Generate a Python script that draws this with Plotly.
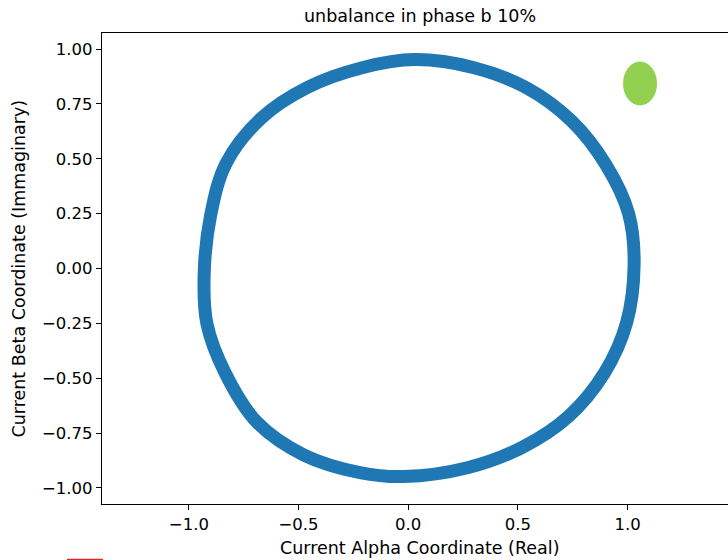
import plotly.graph_objects as go

# Trajectory of the current vector (closed loop)
alpha = [1.030, 1.005, 0.900, 0.745, 0.540, 0.300, 0.030, -0.210, -0.460, -0.670,
         -0.830, -0.900, -0.930, -0.918, -0.835, -0.690, -0.475, -0.220, -0.020,
         0.270, 0.520, 0.730, 0.895, 0.996, 1.030]
beta = [0.020, 0.250, 0.475, 0.672, 0.823, 0.915, 0.952, 0.915, 0.825, 0.685,
        0.480, 0.246, -0.020, -0.250, -0.475, -0.700, -0.850, -0.930, -0.948,
        -0.908, -0.815, -0.675, -0.475, -0.246, 0.020]

# Reference marker (green ellipse): centre and full width/height in data units
marker_center = [1.057, 0.843]
marker_size = [0.155, 0.200]

x_ticks = [-1.0, -0.5, 0.0, 0.5, 1.0]
y_ticks = [-1.00, -0.75, -0.50, -0.25, 0.00, 0.25, 0.50, 0.75, 1.00]

title_text = "unbalance in phase b 10%"
x_title = "Current Alpha Coordinate (Real)"
y_title = "Current Beta Coordinate (Immaginary)"

FONT = "DejaVu Sans"

fig = go.Figure()
fig.add_trace(go.Scatter(
    x=alpha, y=beta, mode="lines",
    line=dict(color="#1f77b4", width=13, shape="spline", smoothing=1.0),
    showlegend=False, hoverinfo="skip",
))

fig.add_shape(
    type="circle", xref="x", yref="y",
    x0=marker_center[0] - marker_size[0] / 2, x1=marker_center[0] + marker_size[0] / 2,
    y0=marker_center[1] - marker_size[1] / 2, y1=marker_center[1] + marker_size[1] / 2,
    fillcolor="#92d050", line=dict(width=0),
)

# partially visible legend line at the bottom-left edge
fig.add_shape(type="line", xref="paper", yref="paper",
              x0=-0.0559, x1=0.0016, y0=-0.1178, y1=-0.1178,
              line=dict(color="#d62728", width=1.5))

fig.update_layout(
    width=728, height=560,
    margin=dict(l=102, r=0, t=33, b=56, autoexpand=False),
    paper_bgcolor="white", plot_bgcolor="white",
    font=dict(family=FONT, size=16, color="black"),
    showlegend=False,
    xaxis=dict(
        range=[-1.396, 1.458], tickvals=x_ticks, tickformat=".1f",
        showgrid=False, zeroline=False, automargin=False,
        showline=True, mirror=True, linecolor="black", linewidth=1.2,
        ticks="outside", ticklen=5, tickcolor="black", tickwidth=1,
        tickfont=dict(size=16.5),
    ),
    yaxis=dict(
        range=[-1.073, 1.073], tickvals=y_ticks, tickformat=".2f",
        showgrid=False, zeroline=False, automargin=False,
        showline=True, mirror=False, linecolor="black", linewidth=1.2,
        ticks="outside", ticklen=5, tickcolor="black", tickwidth=1,
        tickfont=dict(size=16.5),
    ),
    annotations=[
        dict(text=title_text, xref="paper", yref="paper", x=0.508, y=1.0,
             yshift=17, showarrow=False, font=dict(size=17.5), xanchor="center", yanchor="middle"),
        dict(text=x_title, xref="paper", yref="paper", x=0.508, y=0.0,
             yshift=-44, showarrow=False, font=dict(size=17.5), xanchor="center", yanchor="middle"),
        dict(text=y_title, xref="paper", yref="paper", x=0.0, y=0.5,
             xshift=-84, textangle=-90, showarrow=False, font=dict(size=17.5),
             xanchor="center", yanchor="middle"),
    ],
)

# remove the default 8px page margin so the figure fills the window exactly
fig.write_html("out.html",
               config={"displayModeBar": False},
               post_script="document.body.style.margin='0';document.body.style.overflow='hidden';")
